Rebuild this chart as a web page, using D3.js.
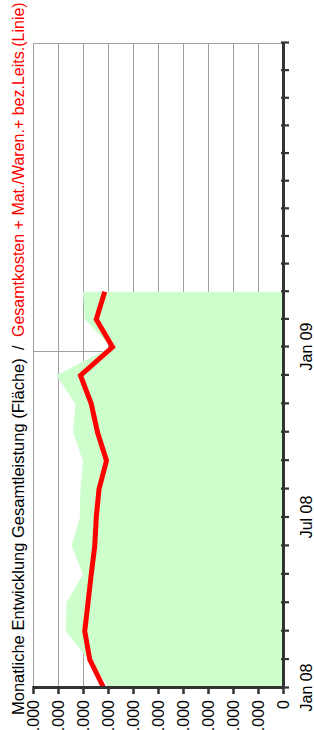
<!DOCTYPE html>
<html><head><meta charset="utf-8">
<script src="https://cdn.jsdelivr.net/npm/d3@7"></script>
<style>html,body{margin:0;padding:0;background:#fff;} svg{display:block;}</style>
</head><body>
<svg id="c" width="314" height="730"></svg>
<script>
// Month categories (index 0 = Jan 08 ... 23 = Dez 09)
const months = ["Jan 08","Feb 08","Mär 08","Apr 08","Mai 08","Jun 08","Jul 08","Aug 08","Sep 08","Okt 08","Nov 08","Dez 08",
                "Jan 09","Feb 09","Mär 09","Apr 09","Mai 09","Jun 09","Jul 09","Aug 09","Sep 09","Okt 09","Nov 09","Dez 09"];
const monthLabelIndex = [0, 6, 12];
const monthLabels = ["Jan 08", "Jul 08", "Jan 09"];
// Gesamtleistung (area), Jan 08 .. Mär 09
const gesamtleistung = [6930000, 7790000, 8690000, 8660000, 8000000, 8460000, 8130000, 8100000, 8000000, 8400000, 8300000, 9070000, 6870000, 7930000, 8000000];
// Gesamtkosten + Mat./Waren + bez. Leistungen (line)
const gesamtkosten = [7170000, 7730000, 7930000, 7800000, 7670000, 7530000, 7470000, 7360000, 7060000, 7420000, 7670000, 8100000, 6820000, 7470000, 7130000];
const valueTicks = [0, 1000000, 2000000, 3000000, 4000000, 5000000, 6000000, 7000000, 8000000, 9000000, 10000000];
const valueTickLabels = ["0","1.000.000","2.000.000","3.000.000","4.000.000","5.000.000","6.000.000","7.000.000","8.000.000","9.000.000","10.000.000"];
const titleBlack = "Monatliche Entwicklung Gesamtleistung (Fläche)";
const titleSep = "/";
const titleRed = "Gesamtkosten + Mat./Waren.+ bez.Leits.(Linie)";

const FONT = "'Liberation Sans', Arial, sans-serif";
const svg = d3.select("#c");
// chart is drawn in a 730x314 frame, then rotated -90deg
const g = svg.append("g").attr("transform", "translate(0,730) rotate(-90)");

const x = d3.scaleLinear().domain([0, 12, 23]).range([42, 383, 687]);
const y = d3.scaleLinear().domain([0, 10000000]).range([283, 33]);

// gridlines
const grid = g.append("g");
grid.selectAll("line.h").data(valueTicks.slice(1)).join("line")
  .attr("x1", x(0)).attr("x2", x(23))
  .attr("y1", d => y(d)).attr("y2", d => y(d))
  .attr("stroke", "#a0a0a0").attr("stroke-width", 1).attr("shape-rendering", "crispEdges");
grid.selectAll("line.v").data([12, 23]).join("line")
  .attr("x1", d => x(d) + (d === 12 ? -4 : 0)).attr("x2", d => x(d) + (d === 12 ? -4 : 0))
  .attr("y1", y(10000000)).attr("y2", y(0))
  .attr("stroke", "#a0a0a0").attr("stroke-width", 1).attr("shape-rendering", "crispEdges");

// area
g.append("path").datum(gesamtleistung)
  .attr("fill", "#ccffcc")
  .attr("d", d3.area().x((d, i) => x(i)).y0(y(0)).y1(d => y(d)));

// line
g.append("path").datum(gesamtkosten)
  .attr("fill", "none").attr("stroke", "#ff0000").attr("stroke-width", 5)
  .attr("stroke-linejoin", "miter")
  .attr("d", d3.line().x((d, i) => x(i)).y(d => y(d)));

// x axis (time)
const xAxis = g.append("g").attr("transform", `translate(0,${y(0)})`)
  .call(d3.axisBottom(x).tickValues(d3.range(months.length))
    .tickFormat(i => { const k = monthLabelIndex.indexOf(i); return k >= 0 ? monthLabels[k] : ""; })
    .tickSizeInner(6).tickSizeOuter(0).tickPadding(11.6));
xAxis.select(".domain").attr("stroke", "#333").attr("stroke-width", 3);
xAxis.selectAll(".tick line").attr("stroke", "#333").attr("stroke-width", 2.2).attr("y1", -2);
xAxis.selectAll(".tick text").attr("font-family", FONT).attr("font-size", 16).attr("fill", "#000");

// y axis (values)
const yAxis = g.append("g").attr("transform", `translate(${x(0)},0)`)
  .call(d3.axisLeft(y).tickValues(valueTicks).tickFormat((d, i) => valueTickLabels[i])
    .tickSizeInner(6).tickSizeOuter(0).tickPadding(6));
yAxis.select(".domain").attr("stroke", "#333").attr("stroke-width", 3);
yAxis.selectAll(".tick line").attr("stroke", "#333").attr("stroke-width", 2.5).attr("x1", 2);
yAxis.selectAll(".tick text").attr("font-family", FONT).attr("font-size", 16).attr("fill", "#000");

// title
g.append("text").attr("x", 15).attr("y", 24).attr("font-family", FONT).attr("font-size", 16.5)
  .attr("fill", "#000").text(titleBlack);
g.append("text").attr("x", 380).attr("y", 24).attr("font-family", FONT).attr("font-size", 16.5)
  .attr("fill", "#000").text(titleSep);
g.append("text").attr("x", 393).attr("y", 24).attr("font-family", FONT).attr("font-size", 16)
  .attr("fill", "#ff0000").text(titleRed);
</script>
</body></html>
